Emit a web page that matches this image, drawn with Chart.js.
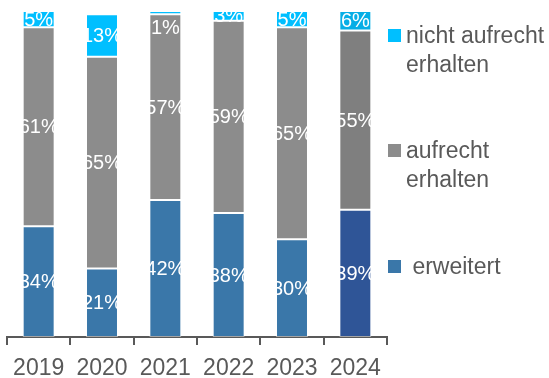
<!DOCTYPE html>
<html>
<head>
<meta charset="utf-8">
<script src="https://cdn.jsdelivr.net/npm/chart.js@4/dist/chart.umd.min.js"></script>
<style>
  html, body { margin: 0; padding: 0; background: #fff; }
  #wrap { width: 549px; height: 378px; position: relative; }
</style>
</head>
<body>
<div id="wrap"><canvas id="c" width="549" height="378"></canvas></div>
<script>
// Jahre und Anteile (in %)
const years = ['2019', '2020', '2021', '2022', '2023', '2024'];
const erweitert = [34, 21, 42, 38, 30, 39];
const aufrechtErhalten = [61, 65, 57, 59, 65, 55];
const nichtAufrechtErhalten = [5, 13, 1, 3, 5, 6];
const seriesNames = [['nicht aufrecht', 'erhalten'], ['aufrecht', 'erhalten'], [' erweitert']];

// Farben: das letzte Jahr ist etwas dunkler hervorgehoben
const blue = years.map((y, i) => i === years.length - 1 ? '#2F5597' : '#3A77A9');
const grey = years.map((y, i) => i === years.length - 1 ? '#7F7F7F' : '#8C8C8C');
const cyan = years.map((y, i) => i === years.length - 1 ? '#06AEE6' : '#00BFFF');
const legendColors = ['#00BFFF', '#8C8C8C', '#3A77A9'];

const FONT = '"Liberation Sans", Arial, sans-serif';
const TEXT_GREY = '#595959';

// Prozentwerte weiß in die Segmente schreiben
const valueLabels = {
  id: 'valueLabels',
  afterDatasetsDraw(chart) {
    const ctx = chart.ctx;
    ctx.save();
    ctx.fillStyle = '#ffffff';
    ctx.font = '20px ' + FONT;
    ctx.textAlign = 'center';
    ctx.textBaseline = 'middle';
    chart.data.datasets.forEach((ds, di) => {
      const meta = chart.getDatasetMeta(di);
      meta.data.forEach((el, i) => {
        const v = ds.data[i];
        const h = el.base - el.y;
        const cy = h < 6 ? el.y + 16 : (el.y + el.base) / 2;
        ctx.fillText(v + '%', el.x, cy + 1);
      });
    });
    ctx.restore();
  }
};

// Legende rechts neben dem Diagramm
const sideLegend = {
  id: 'sideLegend',
  afterDraw(chart) {
    const ctx = chart.ctx;
    const x0 = chart.chartArea.right + 1;
    const tops = [29, 144, 260];
    ctx.save();
    ctx.font = '23px ' + FONT;
    ctx.textAlign = 'left';
    ctx.textBaseline = 'middle';
    seriesNames.forEach((lines, k) => {
      ctx.fillStyle = legendColors[k];
      ctx.fillRect(x0, tops[k], 13, 13);
      ctx.fillStyle = TEXT_GREY;
      lines.forEach((t, j) => {
        ctx.fillText(t, x0 + 18, tops[k] + 8 + j * 29);
      });
    });
    ctx.restore();
  }
};

const segBorder = 'rgba(255,255,255,0.45)';
const barStyle = { borderColor: segBorder, borderWidth: 1, borderSkipped: false, categoryPercentage: 1, barPercentage: 0.505 };

new Chart(document.getElementById('c'), {
  type: 'bar',
  data: {
    labels: years,
    datasets: [
      Object.assign({ label: 'erweitert', data: erweitert, backgroundColor: blue }, barStyle),
      Object.assign({ label: 'aufrecht erhalten', data: aufrechtErhalten, backgroundColor: grey }, barStyle),
      Object.assign({ label: 'nicht aufrecht erhalten', data: nichtAufrechtErhalten, backgroundColor: cyan }, barStyle)
    ]
  },
  options: {
    responsive: false,
    animation: false,
    layout: { padding: { left: 7, right: 162, top: 11, bottom: 0 } },
    plugins: {
      legend: { display: false },
      tooltip: { enabled: false }
    },
    scales: {
      x: {
        stacked: true,
        border: { display: true, color: TEXT_GREY, width: 2 },
        grid: { display: true, drawOnChartArea: false, drawTicks: true, tickLength: 8, color: TEXT_GREY, lineWidth: 2, offset: true },
        ticks: { color: TEXT_GREY, font: { family: FONT, size: 23 }, padding: 10, maxRotation: 0 },
        afterFit(scale) { scale.height = 41; }
      },
      y: {
        stacked: true,
        display: false,
        min: 0,
        max: 100
      }
    }
  },
  plugins: [valueLabels, sideLegend]
});
</script>
</body>
</html>
